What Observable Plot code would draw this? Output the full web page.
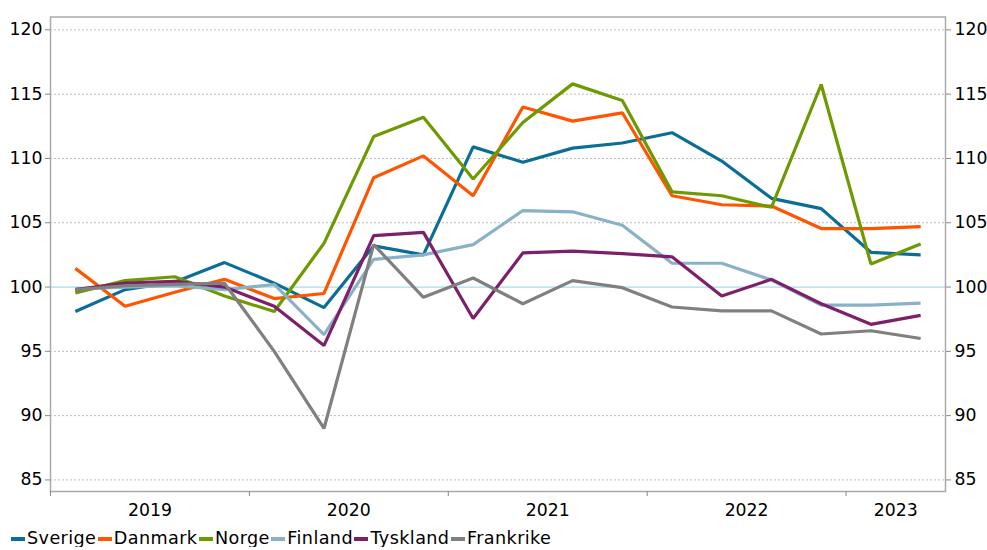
<!DOCTYPE html>
<html>
<head>
<meta charset="utf-8">
<script src="https://cdn.jsdelivr.net/npm/d3@7"></script>
<script src="https://cdn.jsdelivr.net/npm/@observablehq/plot@0.6"></script>
<style>
  body { margin: 0; background: #fff; font-family: "DejaVu Sans", sans-serif; }
  #legend { display: flex; align-items: center; margin-top: 8px; padding-left: 11px; font-size: 17.6px; color: #000; line-height: 17px; letter-spacing: 0.4px; }
  .item { display: flex; align-items: center; margin-right: 1.5px; }
  .sw { width: 14px; height: 4px; margin-right: 2px; }
</style>
</head>
<body>
<div id="chart"></div>
<div id="legend"></div>
<script>
const seriesNames = ["Sverige", "Danmark", "Norge", "Finland", "Tyskland", "Frankrike"];
const colors = ["#0A6E96", "#FF5500", "#6E9900", "#8AB2C6", "#7D1F6B", "#808080"];
const quarters = ["2019K1","2019K2","2019K3","2019K4","2020K1","2020K2","2020K3","2020K4","2021K1","2021K2","2021K3","2021K4","2022K1","2022K2","2022K3","2022K4","2023K1","2023K2"];
const sverige   = [98.1, 99.8, 100.4, 101.9, 100.3, 98.4, 103.2, 102.5, 110.9, 109.7, 110.8, 111.2, 112.0, 109.8, 106.9, 106.1, 102.7, 102.5];
const danmark   = [101.45, 98.5, 99.6, 100.6, 99.1, 99.5, 108.5, 110.2, 107.1, 114.0, 112.9, 113.55, 107.1, 106.4, 106.3, 104.55, 104.55, 104.7];
const norge     = [99.55, 100.5, 100.8, 99.3, 98.1, 103.4, 111.7, 113.2, 108.4, 112.8, 115.8, 114.5, 107.4, 107.1, 106.2, 115.75, 101.8, 103.35];
const finland   = [99.85, 100.0, 100.1, 99.8, 100.2, 96.3, 102.15, 102.5, 103.3, 105.95, 105.85, 104.8, 101.85, 101.85, 100.55, 98.6, 98.6, 98.75];
const tyskland  = [99.8, 100.3, 100.45, 100.0, 98.5, 95.45, 104.0, 104.25, 97.55, 102.65, 102.8, 102.6, 102.35, 99.3, 100.6, 98.7, 97.1, 97.8];
const frankrike = [99.8, 100.1, 100.2, 100.3, 95.0, 89.0, 103.3, 99.2, 100.7, 98.7, 100.5, 99.95, 98.45, 98.15, 98.15, 96.35, 96.6, 96.0];
const yearLabels = ["2019", "2020", "2021", "2022", "2023"];
const yearLabelPos = [2, 6, 10, 14, 17];
const yearTickPos = [0, 4, 8, 12, 16];
const yTicks = [85, 90, 95, 100, 105, 110, 115, 120];

const allSeries = [sverige, danmark, norge, finland, tyskland, frankrike];
const data = [];
allSeries.forEach((vals, s) => vals.forEach((v, i) => data.push({series: seriesNames[s], q: quarters[i], x: i + 0.5, value: v})));

const chart = Plot.plot({
  width: 987,
  height: 522,
  marginLeft: 50,
  marginRight: 42,
  marginTop: 16.5,
  marginBottom: 31,
  style: {fontFamily: "DejaVu Sans, sans-serif", fontSize: "17.3px", color: "#000", background: "#fff"},
  x: {domain: [0, 18]},
  y: {domain: [84.1, 121]},
  color: {domain: seriesNames, range: colors},
  marks: [
    Plot.ruleY(yTicks.filter(d => d !== 100), {stroke: "#bbb", strokeWidth: 1, strokeDasharray: "2,2"}),
    Plot.ruleY([100], {stroke: "#A8DCEB", strokeWidth: 1.2}),
    Plot.frame({stroke: "#aaa", strokeWidth: 1.5}),
    Plot.axisY({anchor: "left", ticks: yTicks, tickSize: 5, tickPadding: 3, stroke: "#888", label: null}),
    Plot.axisY({anchor: "right", ticks: yTicks, tickSize: 5, tickPadding: 4, stroke: "#888", label: null}),
    Plot.axisX({ticks: yearTickPos, tickSize: 5, stroke: "#888", tickFormat: () => "", label: null}),
    Plot.axisX({ticks: yearLabelPos, tickSize: 0, tickPadding: 12, tickFormat: (d) => yearLabels[yearLabelPos.indexOf(d)], label: null}),
    Plot.line(data, {x: "x", y: "value", z: "series", stroke: "series", strokeWidth: 3.2, strokeLinejoin: "miter", strokeLinecap: "butt"})
  ]
});
document.getElementById("chart").appendChild(chart);

const legend = document.getElementById("legend");
seriesNames.forEach((name, i) => {
  const item = document.createElement("div");
  item.className = "item";
  const sw = document.createElement("span");
  sw.className = "sw";
  sw.style.background = colors[i];
  const label = document.createElement("span");
  label.textContent = name;
  item.appendChild(sw);
  item.appendChild(label);
  legend.appendChild(item);
});
</script>
</body>
</html>
